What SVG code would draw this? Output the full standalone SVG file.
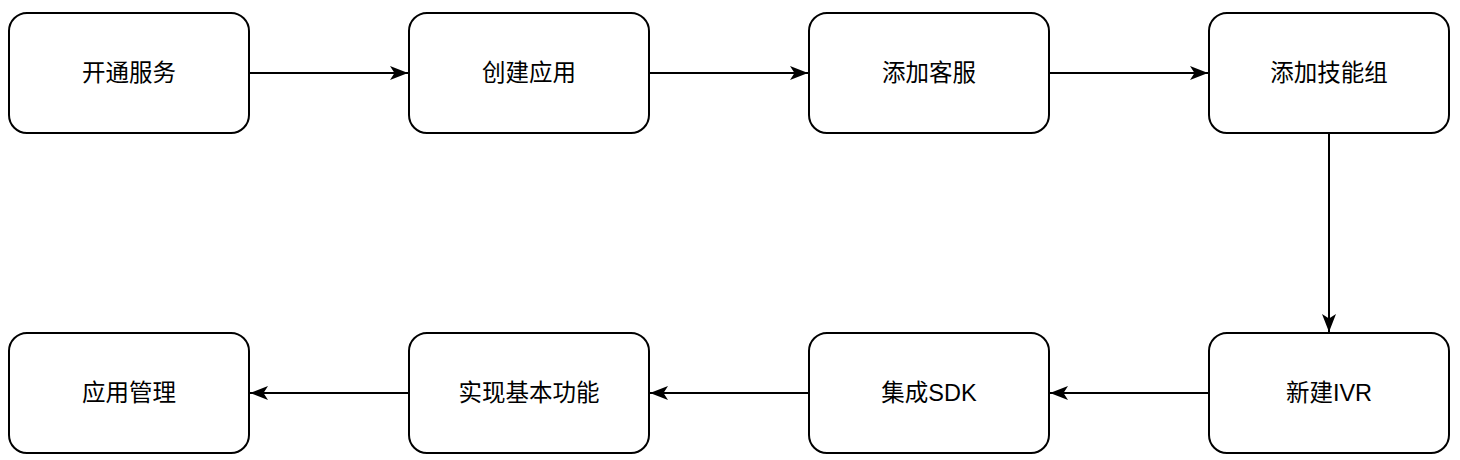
<svg xmlns="http://www.w3.org/2000/svg" width="1460" height="460" viewBox="0 0 1460 460">
<style>
.box{fill:#fff;stroke:#000;stroke-width:2}
.lbl{font-family:"Liberation Sans","Noto Sans CJK SC",sans-serif;font-size:23.5px;fill:#000;text-anchor:middle;dominant-baseline:central}
.edge{fill:none;stroke:#000;stroke-width:2}
</style>
<defs>
<marker id="arr" viewBox="0 0 18 14" refX="18" refY="7" markerWidth="18" markerHeight="14" markerUnits="userSpaceOnUse" orient="auto">
<path d="M0,0 L18,7 L0,14 L4.5,7 Z" fill="#000"/>
</marker>
</defs>
<rect width="1460" height="460" fill="#fff"/>
<g id="connectors">
<path class="edge" d="M249,73 H408" marker-end="url(#arr)"/>
<path class="edge" d="M649,73 H808" marker-end="url(#arr)"/>
<path class="edge" d="M1049,73 H1208" marker-end="url(#arr)"/>
<path class="edge" d="M1329,133 V332" marker-end="url(#arr)"/>
<path class="edge" d="M1209,393 H1050" marker-end="url(#arr)"/>
<path class="edge" d="M809,393 H650" marker-end="url(#arr)"/>
<path class="edge" d="M409,393 H250" marker-end="url(#arr)"/>
</g>
<g id="n1"><rect class="box" x="9" y="13" width="240" height="120" rx="18"/><text class="lbl" x="129" y="73">开通服务</text></g>
<g id="n2"><rect class="box" x="409" y="13" width="240" height="120" rx="18"/><text class="lbl" x="529" y="73">创建应用</text></g>
<g id="n3"><rect class="box" x="809" y="13" width="240" height="120" rx="18"/><text class="lbl" x="929" y="73">添加客服</text></g>
<g id="n4"><rect class="box" x="1209" y="13" width="240" height="120" rx="18"/><text class="lbl" x="1329" y="73">添加技能组</text></g>
<g id="n5"><rect class="box" x="1209" y="333" width="240" height="120" rx="18"/><text class="lbl" x="1329" y="393">新建IVR</text></g>
<g id="n6"><rect class="box" x="809" y="333" width="240" height="120" rx="18"/><text class="lbl" x="929" y="393">集成SDK</text></g>
<g id="n7"><rect class="box" x="409" y="333" width="240" height="120" rx="18"/><text class="lbl" x="529" y="393">实现基本功能</text></g>
<g id="n8"><rect class="box" x="9" y="333" width="240" height="120" rx="18"/><text class="lbl" x="129" y="393">应用管理</text></g>
</svg>
